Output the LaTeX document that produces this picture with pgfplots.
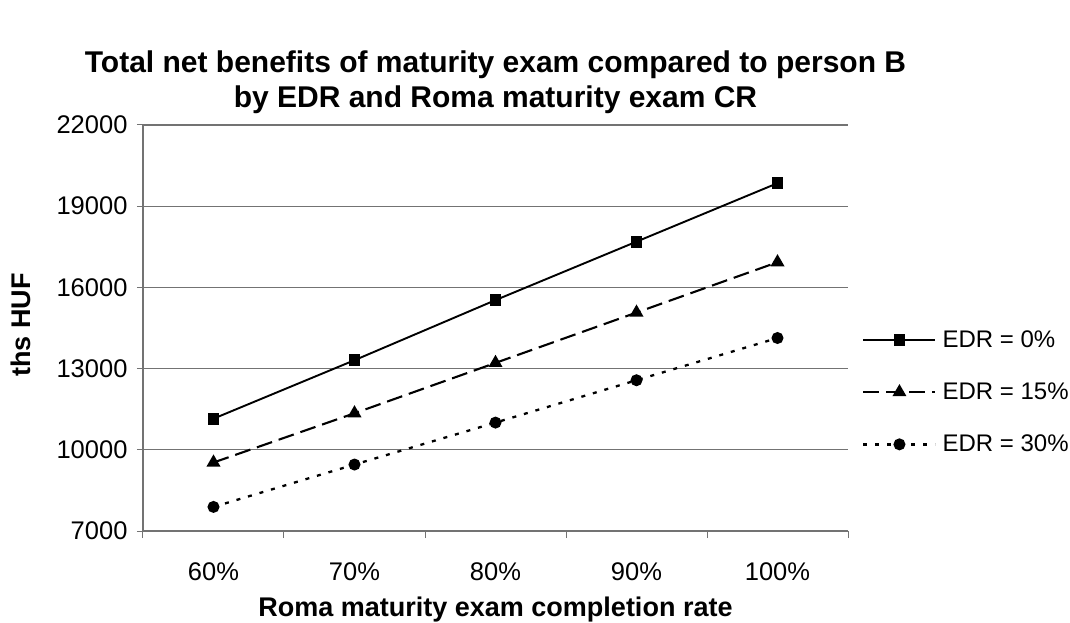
\documentclass[border=0pt]{standalone}
\usepackage{pgfplots}
\pgfplotsset{compat=1.18}
\usepackage{fontspec}
\setmainfont{Liberation Sans}
\begin{document}
\begin{tikzpicture}[x=1pt,y=1pt]
\useasboundingbox (-143,-92) rectangle (927,531);
\begin{axis}[
  at={(0,0)}, anchor=south west,
  scale only axis, width=705pt, height=406pt,
  xmin=-0.5, xmax=4.5, ymin=7000, ymax=22000,
  xtick={0,1,2,3,4},
  xticklabels={60\%,70\%,80\%,90\%,100\%},
  minor xtick={-0.5,0.5,1.5,2.5,3.5,4.5},
  ytick={7000,10000,13000,16000,19000,22000},
  scaled y ticks=false,
  tick align=outside,
  xtick pos=bottom, ytick pos=left,
  major x tick style={draw=none},
  minor tick length=7pt,
  major tick length=6pt,
  every tick/.style={color=gray!90!black, line width=1pt},
  axis x line*=bottom, axis y line*=left,
  axis line style={color=gray!90!black, line width=1.2pt, -},
  ymajorgrids, major grid style={color=gray!90!black, line width=1.2pt},
  /pgf/number format/assume math mode=true,
  /pgf/number format/1000 sep={},
  tick label style={font=\fontsize{25.5}{28}\selectfont},
  xticklabel style={yshift=-22pt},
  yticklabel style={xshift=-6pt},
  xlabel={\textbf{Roma maturity exam completion rate}},
  xlabel style={at={(axis description cs:0.5,0)}, anchor=base, yshift=-85pt, font=\fontsize{27}{30}\selectfont},
  ylabel={\textbf{ths HUF}},
  ylabel style={at={(axis description cs:-0.159,0.507)}, anchor=base, font=\fontsize{27}{30}\selectfont},
  legend style={at={(axis description cs:1.02,0.342)}, anchor=west, draw=none, fill=none,
    font=\fontsize{24}{28}\selectfont, row sep=28pt, column sep=3pt, inner sep=0pt,
    nodes={inner sep=3pt}},
  legend cell align=left,
  legend image code/.code={\draw[#1, mark repeat=2, mark phase=2] plot coordinates {(0pt,0pt) (36pt,0pt) (72pt,0pt)};},
  clip=false,
]
\addplot[black, line width=1.9pt, mark=square*, mark size=5pt, mark options={solid}]
  coordinates {(0,11150) (1,13310) (2,15530) (3,17690) (4,19850)};
\addlegendentry{EDR = 0\%}
\addplot[black, line width=2.1pt, dash pattern=on 16pt off 7pt, mark=triangle*, mark size=6pt, mark options={solid}]
  coordinates {(0,9530) (1,11350) (2,13210) (3,15070) (4,16930)};
\addlegendentry{EDR = 15\%}
\addplot[black, line width=2.3pt, dash pattern=on 4pt off 8pt, mark=*, mark size=4.8pt, mark options={solid}]
  coordinates {(0,7890) (1,9455) (2,11005) (3,12570) (4,14130)};
\addlegendentry{EDR = 30\%}
\node[anchor=base, font=\fontsize{30}{33}\bfseries] at (rel axis cs:0.5,1) [yshift=52.3pt] {Total net benefits of maturity exam compared to person B};
\node[anchor=base, font=\fontsize{30}{33}\bfseries] at (rel axis cs:0.5,1) [yshift=17.3pt] {by EDR and Roma maturity exam CR};
\end{axis}
\end{tikzpicture}
\end{document}
